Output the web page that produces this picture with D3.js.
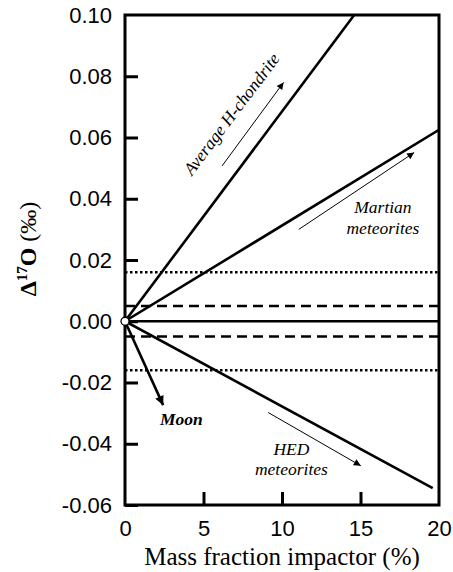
<!DOCTYPE html>
<html><head><meta charset="utf-8">
<script src="https://cdn.jsdelivr.net/npm/d3@7"></script>
<style>body{margin:0;background:#fff}
.serif{font-family:"Liberation Serif","Times New Roman",Times,"Nimbus Roman","DejaVu Serif",serif}
.sans{font-family:"Liberation Sans",Arial,Helvetica,sans-serif}
</style>
</head><body>
<svg id="c" width="453" height="572"></svg>
<script>
const xTicks = [0, 5, 10, 15, 20];
const yTicks = [-0.06, -0.04, -0.02, 0.00, 0.02, 0.04, 0.06, 0.08, 0.10];
const lineNames = ["Average H-chondrite", "Martian meteorites", "HED meteorites"];
const lineEndX = [14.6, 20, 19.6];
const lineEndY = [0.10, 0.0625, -0.0545];
const dashedLevels = [0.005, -0.005];
const dottedLevels = [0.016, -0.016];
const moonEnd = [2.43, -0.0274];
// annotation arrows: [x0, y0, x1, y1]
const annoArrows = [
  [6.18, 0.0507, 10.1, 0.078],
  [11.07, 0.030, 18.42, 0.0551],
  [9.12, -0.0298, 15.02, -0.0472]
];

const svg = d3.select("#c");
const x = d3.scaleLinear().domain([0, 20]).range([125, 439]);
const y = d3.scaleLinear().domain([-0.06, 0.10]).range([505, 15]);

const defs = svg.append("defs");
defs.append("marker").attr("id", "thin").attr("viewBox", "0 0 10 10")
  .attr("refX", 10).attr("refY", 5).attr("markerWidth", 9).attr("markerHeight", 7)
  .attr("markerUnits", "userSpaceOnUse").attr("orient", "auto")
  .append("path").attr("d", "M0,0L10,5L0,10Z").attr("fill", "#000");
defs.append("marker").attr("id", "thick").attr("viewBox", "0 0 10 10")
  .attr("refX", 10).attr("refY", 5).attr("markerWidth", 11).attr("markerHeight", 9)
  .attr("markerUnits", "userSpaceOnUse").attr("orient", "auto")
  .append("path").attr("d", "M0,0L10,5L0,10Z").attr("fill", "#000");

const clip = defs.append("clipPath").attr("id", "plot");
clip.append("rect").attr("x", 125).attr("y", 15).attr("width", 314).attr("height", 490);

const g = svg.append("g").attr("clip-path", "url(#plot)");

g.selectAll(".dash").data(dashedLevels).join("line")
  .attr("x1", x(0)).attr("x2", x(20)).attr("y1", d => y(d)).attr("y2", d => y(d))
  .attr("stroke", "#000").attr("stroke-width", 2.5).attr("stroke-dasharray", "10,6");
g.selectAll(".dot").data(dottedLevels).join("line")
  .attr("x1", x(0)).attr("x2", x(20)).attr("y1", d => y(d)).attr("y2", d => y(d))
  .attr("stroke", "#000").attr("stroke-width", 2.5).attr("stroke-dasharray", "2.5,2.5");
g.append("line").attr("x1", x(0)).attr("x2", x(20)).attr("y1", y(0)).attr("y2", y(0))
  .attr("stroke", "#000").attr("stroke-width", 2.5);

g.selectAll(".mix").data(lineNames).join("line")
  .attr("x1", x(0)).attr("y1", y(0))
  .attr("x2", (d, i) => x(lineEndX[i])).attr("y2", (d, i) => y(lineEndY[i]))
  .attr("stroke", "#000").attr("stroke-width", 2.6);

svg.append("line").attr("x1", x(0)).attr("y1", y(0))
  .attr("x2", x(moonEnd[0])).attr("y2", y(moonEnd[1]))
  .attr("stroke", "#000").attr("stroke-width", 2.6).attr("marker-end", "url(#thick)");

svg.selectAll(".anno").data(annoArrows).join("line")
  .attr("x1", d => x(d[0])).attr("y1", d => y(d[1]))
  .attr("x2", d => x(d[2])).attr("y2", d => y(d[3]))
  .attr("stroke", "#000").attr("stroke-width", 1).attr("marker-end", "url(#thin)");

svg.append("rect").attr("x", 125).attr("y", 15).attr("width", 314).attr("height", 490)
  .attr("fill", "none").attr("stroke", "#000").attr("stroke-width", 3);

const fmtY = d => d3.format(".2f")(d).replace("\u2212", "-");
const xAxis = d3.axisBottom(x).tickValues(xTicks).tickSize(-13).tickPadding(15).tickFormat(d3.format("d"));
const yAxis = d3.axisLeft(y).tickValues(yTicks).tickSize(-13).tickPadding(13).tickFormat(fmtY);
const gx = svg.append("g").attr("transform", "translate(0,505)").call(xAxis);
const gy = svg.append("g").attr("transform", "translate(125,0)").call(yAxis);
[gx, gy].forEach(a => {
  a.attr("font-family", null).attr("font-size", null).attr("class", "sans");
  a.select(".domain").remove();
  a.selectAll(".tick line").attr("stroke", "#000").attr("stroke-width", 3);
  a.selectAll(".tick text").style("font-size", "22px").attr("fill", "#000");
});
gy.selectAll(".tick").filter(d => d === 0.10).select("line").remove();
gx.selectAll(".tick").filter(d => d === 0 || d === 20).select("line").remove();

svg.append("circle").attr("cx", x(0)).attr("cy", y(0)).attr("r", 4)
  .attr("fill", "#fff").attr("stroke", "#000").attr("stroke-width", 1.3);

svg.append("text").attr("class", "serif").attr("x", x(6.88)).attr("y", y(0.0673))
  .attr("transform", `rotate(-53,${x(6.88)},${y(0.0673)})`)
  .attr("text-anchor", "middle").attr("dominant-baseline", "middle")
  .style("font-style", "italic").style("font-size", "17.5px")
  .text(lineNames[0]);
const mart = svg.append("text").attr("class", "serif").attr("text-anchor", "middle")
  .style("font-style", "italic").style("font-size", "17.5px");
mart.append("tspan").attr("x", x(16.43)).attr("y", y(0.0352)).text("Martian");
mart.append("tspan").attr("x", x(16.43)).attr("y", y(0.0285)).text("meteorites");
const hed = svg.append("text").attr("class", "serif").attr("text-anchor", "middle")
  .style("font-style", "italic").style("font-size", "17.5px");
hed.append("tspan").attr("x", x(10.6)).attr("y", y(-0.0437)).text("HED");
hed.append("tspan").attr("x", x(10.6)).attr("y", y(-0.0502)).text("meteorites");
svg.append("text").attr("class", "serif").attr("x", x(2.23)).attr("y", y(-0.0339))
  .style("font-style", "italic").style("font-weight", "bold")
  .style("font-size", "17.5px").text("Moon");

svg.append("text").attr("class", "serif").attr("x", 282).attr("y", 565).attr("text-anchor", "middle")
  .style("font-size", "25px").text("Mass fraction impactor (%)");
const yl = svg.append("text").attr("class", "serif").attr("transform", "translate(36,249) rotate(-90)")
  .attr("text-anchor", "middle").style("font-size", "24px");
yl.append("tspan").style("font-weight", "bold").text("Δ");
yl.append("tspan").style("font-weight", "bold").style("font-size", "15px").attr("dy", -9).text("17");
yl.append("tspan").style("font-weight", "bold").attr("dy", 9).text("O");
yl.append("tspan").text(" (‰)");
</script>
</body></html>
